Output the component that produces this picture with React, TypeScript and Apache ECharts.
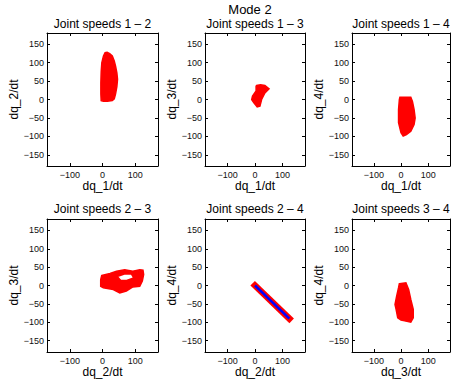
import React, { useEffect, useRef } from "react";
import * as echarts from "echarts";

const FONT = "'Liberation Sans', Arial, Helvetica, sans-serif";

const figureTitle = "Mode 2";
const panelTitles = [
  "Joint speeds 1 \u2013 2",
  "Joint speeds 1 \u2013 3",
  "Joint speeds 1 \u2013 4",
  "Joint speeds 2 \u2013 3",
  "Joint speeds 2 \u2013 4",
  "Joint speeds 3 \u2013 4",
];
const xNames = ["dq_1/dt", "dq_1/dt", "dq_1/dt", "dq_2/dt", "dq_2/dt", "dq_3/dt"];
const yNames = ["dq_2/dt", "dq_3/dt", "dq_4/dt", "dq_3/dt", "dq_4/dt", "dq_4/dt"];
const xTicks = [-100, 0, 100];
const yTicks = [-150, -100, -50, 0, 50, 100, 150];

// outlines of the dense red point clouds (data units)
const blob12 = [[-2, 100], [3, 118], [8, 127], [14, 128], [22, 124], [30, 118], [36, 104], [40, 90], [44, 72], [46, 55], [44, 35], [40, 15], [36, 2], [30, -3], [15, -5], [3, -5], [-4, -3], [-5, 15], [-5, 45], [-4, 75]];
const blob13 = [[4, 36], [6, 38], [20, 40], [36, 38], [51, 29], [36, 18], [24, 0], [18, -18], [8, -20], [-4, -9], [-12, 0], [-9, 9], [4, 23]];
const blob14 = [[-4, 6], [36, 6], [42, -5], [48, -27], [52, -50], [48, -68], [36, -86], [20, -95], [8, -99], [0, -90], [-9, -63], [-9, -27], [-6, 0]];
const blob23 = [[-2.5, 27], [23, 33], [43, 39], [68, 43], [93, 39], [114, 43], [124, 42], [126, 30], [122, 12], [114, -2], [93, -4], [73, -15], [53, -20], [33, -11], [2.5, -6], [-5.5, -2], [-5.5, 16]];
const hole23 = [[53, 22.6], [68, 27], [86, 27], [89, 22.6], [73, 18], [58, 18]];
const line24 = [[0, 0], [125, -90]];
const blob34 = [[-6, 5], [18, 7], [28, -11], [36, -38], [45, -65], [45, -88], [36, -100], [18, -97], [0, -94], [-12, -88], [-18, -65], [-22, -52], [-16, -29], [-9, -6]];

// layout
const grids = [
  { left: 47, top: 33, width: 111, height: 133, xr: 170, yr: 180, gapY: 27 },
  { left: 205, top: 33, width: 100, height: 133, xr: 182, yr: 180, gapY: 26 },
  { left: 352, top: 33, width: 98, height: 133, xr: 180, yr: 180, gapY: 24 },
  { left: 47, top: 219, width: 111, height: 133, xr: 170, yr: 181, gapY: 27 },
  { left: 205, top: 219, width: 100, height: 133, xr: 182, yr: 181, gapY: 26 },
  { left: 352, top: 219, width: 98, height: 133, xr: 180, yr: 181, gapY: 24 },
];

const fmt = (v: number) => (v < 0 ? "\u2212" + Math.abs(v) : String(v));

function buildOption() {
  const grid: any[] = [];
  const xAxis: any[] = [];
  const yAxis: any[] = [];
  const series: any[] = [];
  const graphic: any[] = [
    {
      type: "text",
      x: 250,
      y: 3,
      silent: true,
      style: {
        text: figureTitle, fontFamily: FONT, fontSize: 13, fill: "#000",
        textAlign: "center", textVerticalAlign: "top",
      },
    },
  ];
  grids.forEach((g, i) => {
    grid.push({ left: g.left, top: g.top, width: g.width, height: g.height, containLabel: false });
    const line = { show: true, onZero: false, lineStyle: { color: "#000", width: 1 } };
    const tickX = { show: true, inside: true, length: 3, customValues: xTicks, lineStyle: { color: "#000" } };
    const tickY = { show: true, inside: true, length: 3, customValues: yTicks, lineStyle: { color: "#000" } };
    xAxis.push({
      type: "value", gridIndex: i, position: "bottom", min: -g.xr, max: g.xr,
      axisLine: line, axisTick: tickX, splitLine: { show: false },
      axisLabel: { customValues: xTicks, formatter: fmt, fontFamily: FONT, fontSize: 9, color: "#111", margin: 4 },
      name: xNames[i], nameLocation: "middle", nameGap: 14,
      nameTextStyle: { fontFamily: FONT, fontSize: 12, color: "#000" },
    });
    xAxis.push({
      type: "value", gridIndex: i, position: "top", min: -g.xr, max: g.xr,
      axisLine: line, axisTick: tickX, splitLine: { show: false }, axisLabel: { show: false },
    });
    yAxis.push({
      type: "value", gridIndex: i, position: "left", min: -g.yr, max: g.yr,
      axisLine: line, axisTick: tickY, splitLine: { show: false },
      axisLabel: { customValues: yTicks, formatter: fmt, fontFamily: FONT, fontSize: 9, color: "#111", margin: 3 },
      name: yNames[i], nameLocation: "middle", nameGap: g.gapY,
      nameTextStyle: { fontFamily: FONT, fontSize: 12, color: "#000" },
    });
    yAxis.push({
      type: "value", gridIndex: i, position: "right", min: -g.yr, max: g.yr,
      axisLine: line, axisTick: tickY, splitLine: { show: false }, axisLabel: { show: false },
    });
    graphic.push({
      type: "text",
      x: g.left + g.width / 2,
      y: i < 3 ? 18 : 202.5,
      silent: true,
      style: {
        text: panelTitles[i], fontFamily: FONT, fontSize: 12, fill: "#000",
        textAlign: "center", textVerticalAlign: "top",
      },
    });
  });

  const poly = (idx: number, pts: number[][], color: string) => ({
    type: "custom",
    xAxisIndex: idx * 2,
    yAxisIndex: idx * 2,
    data: pts,
    renderItem: (params: any, api: any) => {
      if (params.dataIndex !== 0) return null;
      return {
        type: "polygon",
        shape: { points: pts.map((p) => api.coord(p)) },
        style: { fill: color, stroke: color, lineWidth: 1.5 },
      };
    },
    silent: true,
  });

  series.push(poly(0, blob12, "#ff0000"));
  series.push(poly(1, blob13, "#ff0000"));
  series.push(poly(2, blob14, "#ff0000"));
  series.push(poly(3, blob23, "#ff0000"));
  series.push(poly(3, hole23, "#ffffff"));
  series.push({
    type: "line", xAxisIndex: 8, yAxisIndex: 8, data: line24, symbol: "none",
    lineStyle: { color: "#ff0000", width: 6.5, cap: "square" }, silent: true,
  });
  series.push({
    type: "line", xAxisIndex: 8, yAxisIndex: 8, data: line24, symbol: "none",
    lineStyle: { color: "#0000ff", width: 2.5 }, silent: true,
  });
  series.push(poly(5, blob34, "#ff0000"));

  return {
    animation: false,
    backgroundColor: "#ffffff",
    grid,
    xAxis,
    yAxis,
    series,
    graphic,
  };
}

export default function App() {
  const ref = useRef<HTMLDivElement>(null);
  useEffect(() => {
    if (!ref.current) return;
    const chart = echarts.init(ref.current, undefined, { renderer: "svg" });
    chart.setOption(buildOption() as any);
    return () => chart.dispose();
  }, []);
  return (
    <div
      ref={ref}
      style={{ position: "fixed", left: 0, top: 0, width: 451, height: 381, background: "#fff" }}
    />
  );
}
